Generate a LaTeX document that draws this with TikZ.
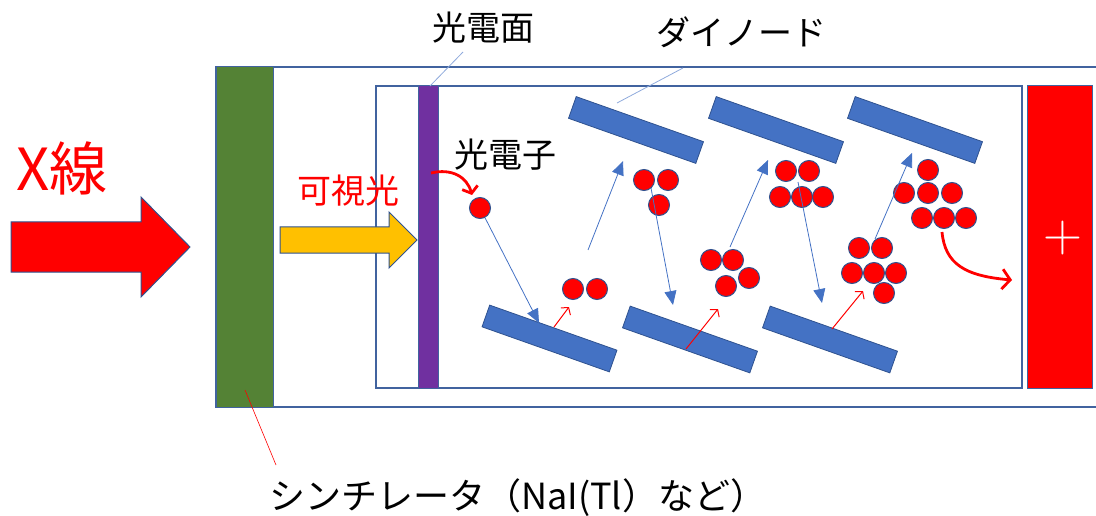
\documentclass[tikz,border=0pt]{standalone}
\usepackage{fontspec}
\setmainfont{Noto Sans CJK JP}
\newfontfamily\lmfont{Latin Modern Roman}
\usetikzlibrary{arrows.meta}

\definecolor{dyblue}{HTML}{4472C4}
\definecolor{edgeblue}{HTML}{2F528F}
\definecolor{frameblue}{HTML}{41639F}
\definecolor{scint}{HTML}{548235}
\definecolor{cathode}{HTML}{7030A0}
\definecolor{lightyel}{HTML}{FFC000}
\definecolor{leader}{HTML}{8FAADC}

\newcommand\fsz[1]{\fontsize{#1}{#1}\selectfont}

\tikzset{
  dynode/.style={draw=edgeblue, fill=dyblue, line width=0.8pt, rectangle,
    minimum width=135pt, minimum height=23pt, inner sep=0pt, rotate=-19.5},
  electron/.style={circle, draw=edgeblue, fill=red, line width=1pt,
    minimum size=21pt, inner sep=0pt},
  flow/.style={dyblue, line width=0.8pt, -{Triangle[length=14pt,width=12pt]}},
  emit/.style={red, line width=1pt, -{Straight Barb[length=5pt,width=12pt]}},
  drift/.style={red, line width=2.8pt, -{Straight Barb[length=8pt,width=20pt]}},
  caption/.style={inner sep=0pt, anchor=base, font=\fsz{34}},
  frame/.style={draw=frameblue, line width=1.4pt},
}

\begin{document}
\begin{tikzpicture}[x=1pt, y=-1pt]
\useasboundingbox (0,0) rectangle (1096,516);

% tube housing (open to the right)
\draw[frame] (1096,67) -- (216,67) -- (216,407) -- (1096,407);
% scintillator crystal
\node[draw=frameblue, fill=scint, line width=1pt, inner sep=0pt, minimum width=57pt,
  minimum height=340pt] (scint) at (244.5,237) {};
% photomultiplier envelope
\node[frame, inner sep=0pt, minimum width=646pt, minimum height=302pt] (pmt) at (699,237) {};
% photocathode
\node[draw=frameblue, fill=cathode, line width=1pt, inner sep=0pt, minimum width=20pt,
  minimum height=302pt] (cathode) at (428,237) {};
% anode
\node[draw=frameblue, fill=red, line width=1pt, inner sep=0pt, minimum width=65pt,
  minimum height=302pt] (anode) at (1059.5,237) {};
\node[white, inner sep=0pt, anchor=base, font={\lmfont\fsz{54}}] (plus) at (1063,251.5) {+};

% incoming X-ray
\draw[fill=red, draw=edgeblue, line width=1pt]
  (11,222) -- (141,222) -- (141,197) -- (190,247) -- (141,297) -- (141,272) -- (11,272) -- cycle;
\node[red, inner sep=0pt, anchor=base, font=\fsz{58}] (xray) at (62,190) {X線};

% scintillation light
\draw[fill=lightyel, draw=edgeblue, line width=1pt]
  (280,227) -- (389,227) -- (389,212) -- (417,240) -- (389,268) -- (389,253) -- (280,253) -- cycle;
\node[caption, red] (light) at (348,204) {可視光};

% dynode chain
\node[dynode] (d1) at (549.5,338.5) {};
\node[dynode] (d2) at (636,130) {};
\node[dynode] (d3) at (690,339.5) {};
\node[dynode] (d4) at (776,130) {};
\node[dynode] (d5) at (830,339.5) {};
\node[dynode] (d6) at (915,130) {};

% electrons
\node[electron] (e1) at (480,208) {};
\foreach \p [count=\i] in {{(573,289)},{(597,289)}}
  \node[electron] (a\i) at \p {};
\foreach \p [count=\i] in {{(644,180)},{(668,180)},{(659,205)}}
  \node[electron] (b\i) at \p {};
\foreach \p [count=\i] in {{(711,260)},{(733,260)},{(749,278)},{(726,286)}}
  \node[electron] (c\i) at \p {};
\foreach \p [count=\i] in {{(786,171)},{(809,171)},{(780,197)},{(802,197)},{(823,197)}}
  \node[electron] (g\i) at \p {};
\foreach \p [count=\i] in {{(859,248)},{(882,248)},{(852,273)},{(874,273)},{(896,273)},{(884,293)}}
  \node[electron] (h\i) at \p {};
\foreach \p [count=\i] in {{(928,170)},{(904,193)},{(928,193)},{(952,193)},{(922,218)},{(944,218)},{(966,218)}}
  \node[electron] (k\i) at \p {};

% electron paths between dynodes
\coordinate (t1) at (539,323);
\coordinate (s2) at (588,250);  \coordinate (t2) at (623,161);
\coordinate (s3) at (651,188);  \coordinate (t3) at (673,305);
\coordinate (s4) at (730,247);  \coordinate (t4) at (768,160);
\coordinate (s5) at (798,182);  \coordinate (t5) at (822,303);
\coordinate (s6) at (875,239);  \coordinate (t6) at (912,153);
\draw[flow] (e1) -- (t1);
\draw[flow] (s2) -- (t2);
\draw[flow] (s3) -- (t3);
\draw[flow] (s4) -- (t4);
\draw[flow] (s5) -- (t5);
\draw[flow] (s6) -- (t6);

% secondary emission
\coordinate (r1s) at (554,327);  \coordinate (r1e) at (569,307);
\coordinate (r2s) at (686,349);  \coordinate (r2e) at (718,309);
\coordinate (r3s) at (832,329);  \coordinate (r3e) at (863,291);
\draw[emit] (r1s) -- (r1e);
\draw[emit] (r2s) -- (r2e);
\draw[emit] (r3s) -- (r3e);

% photoemission and collection
\coordinate (pe) at (431,173);
\coordinate (pt) at (472,195);
\draw[red, line width=2.8pt, -{Straight Barb[length=6pt,width=16pt]}]
  (pe) .. controls (452,168) and (467,177) .. (pt);
\coordinate (ce) at (942,232);
\coordinate (ct) at (1012,280);
\draw[drift] (ce) .. controls (945,264) and (965,276) .. (ct);

% labels and leaders
\node[caption] (lcath) at (483,41) {光電面};
\node[caption] (lpe) at (505,168) {光電子};
\node[caption] (ldyn) at (741,46) {ダイノード};
\node[inner sep=0pt, anchor=base west, font=\fsz{36}] (lscint) at (269,509) {シンチレータ（NaI(Tl）など）};
\coordinate (q1) at (463,52);  \coordinate (q1e) at (430,86);
\coordinate (q2) at (683,68);  \coordinate (q2e) at (617,103);
\coordinate (q3) at (245,390); \coordinate (q3e) at (276,465);
\draw[leader, line width=0.8pt] (q1) -- (q1e);
\draw[leader, line width=0.8pt] (q2) -- (q2e);
\draw[red, line width=0.6pt] (q3) -- (q3e);
\end{tikzpicture}
\end{document}
